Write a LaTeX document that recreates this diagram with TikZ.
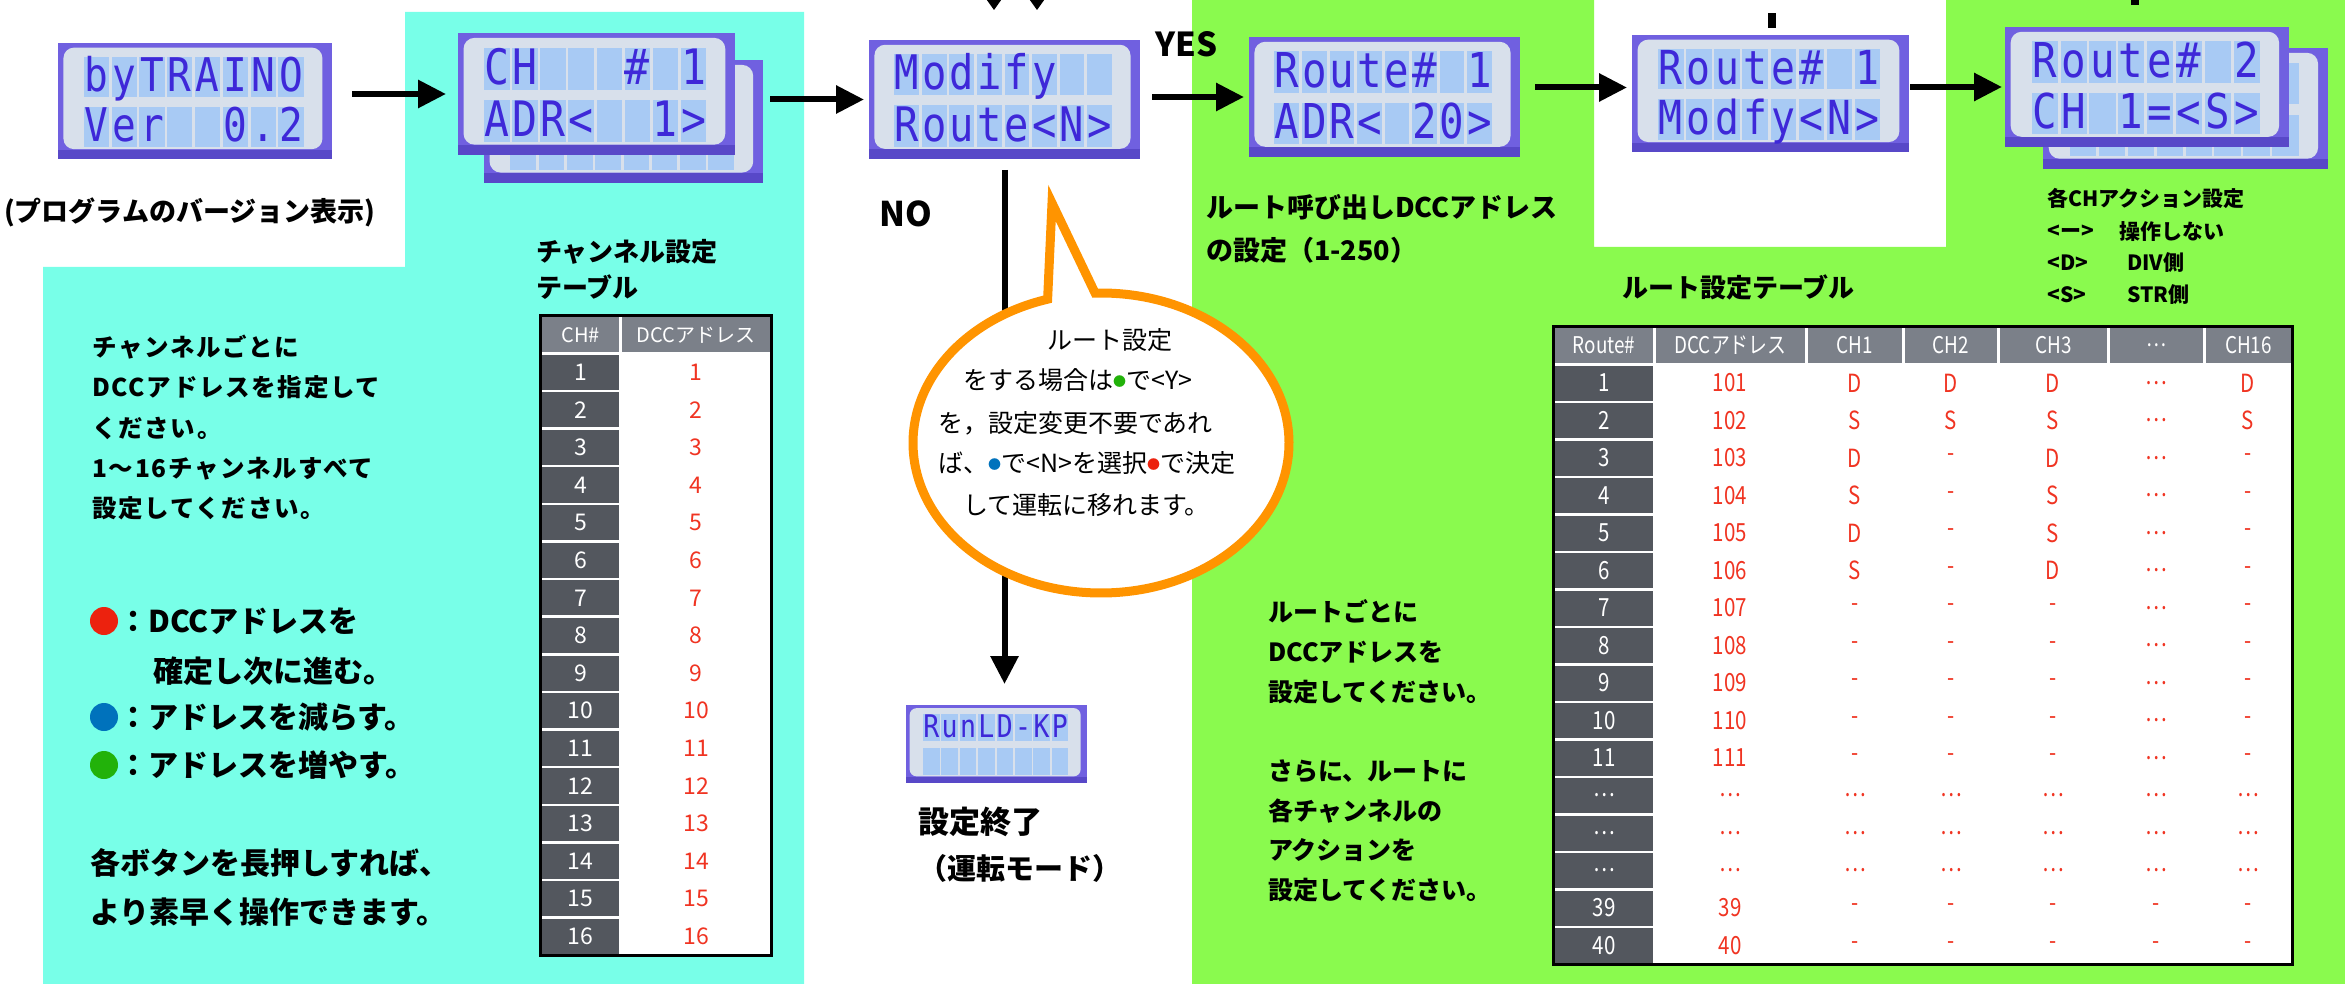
\documentclass[tikz,border=0pt]{standalone}
\usepackage{fontspec}
\setmainfont{Noto Sans CJK JP}
\newfontfamily\jp{Noto Sans CJK JP}
\newfontfamily\jpc{Noto Sans CJK JP}[FakeStretch=0.82]
\newfontfamily\lcdfont{DejaVu Sans Mono}[FakeStretch=0.85]
\usetikzlibrary{arrows.meta,calc}
\definecolor{cyanbg}{RGB}{120,255,232}
\definecolor{greenbg}{RGB}{138,250,78}
\definecolor{orng}{RGB}{255,148,0}
\definecolor{redtx}{RGB}{240,52,34}
\definecolor{hdrgray}{RGB}{123,128,137}
\definecolor{darkcell}{RGB}{83,87,94}
\definecolor{dotred}{RGB}{236,34,14}
\definecolor{dotblue}{RGB}{0,114,188}
\definecolor{dotgreen}{RGB}{34,178,10}
\definecolor{lcdfr}{RGB}{112,96,224}
\definecolor{lcdfrd}{RGB}{88,72,200}
\definecolor{lcdin}{RGB}{216,224,235}
\definecolor{lcdcl}{RGB}{168,202,244}
\definecolor{lcdtx}{RGB}{62,40,216}
\newcommand{\fz}[2]{\fontsize{#1}{#2}\selectfont}
\tikzset{
  arr/.style={line width=6pt,-{Triangle[length=28pt,width=27pt]}},
  lcdbox/.style={rectangle,fill=lcdfr,inner sep=0pt,outer sep=0pt},
  lcdchar/.style={anchor=base,inner sep=0pt,text=lcdtx},
  lbl/.style={anchor=west,inner sep=0pt,align=left,text=black},
  hdr/.style={inner sep=0pt,text=white},
  cellw/.style={inner sep=0pt,text=white,font=\jp\fz{23}{23}},
  cellr/.style={inner sep=0pt,text=redtx,font=\jp\fz{23}{23}},
  rcw/.style={inner sep=0pt,text=white,font=\jpc\fz{25}{25}},
  rcr/.style={inner sep=0pt,text=redtx,font=\jpc\fz{25}{25}},
}
% #1 name, #2 cx, #3 cy, #4 w, #5 h, #6 row1, #7 row2
\newcommand{\lcdpanel}[7]{%
  \pgfmathsetmacro{\lrc}{0.09*#5}%
  \pgfmathsetmacro{\lfs}{0.40*#5}%
  \node[lcdbox, minimum width=#4pt, minimum height=#5pt] (#1) at (#2,#3) {};
  \fill[lcdfrd] ($(#1.south west)+(0,-0.08*#5)$) rectangle (#1.south east);
  \fill[lcdin, rounded corners=\lrc pt] ($(#1.north west)+(0.02*#4,0.04*#5)$) rectangle ($(#1.south east)+(-0.035*#4,-0.085*#5)$);
  \foreach \j in {0,1}{\foreach \i in {0,...,7}{
    \fill[lcdcl] ($(#1.north west)+({(0.094+0.1015*\i)*#4},{(0.12+0.43*\j)*#5})$) rectangle +({0.092*#4},{0.345*#5});}}
  \foreach \ch [count=\i from 0] in {#6}{
    \node[lcdchar, font=\lcdfont\fz{\lfs}{\lfs}] (#1-a\i) at ($(#1.north west)+({(0.14+0.1015*\i)*#4},{0.42*#5})$) {\ch};}
  \foreach \ch [count=\i from 0] in {#7}{
    \node[lcdchar, font=\lcdfont\fz{\lfs}{\lfs}] (#1-b\i) at ($(#1.north west)+({(0.14+0.1015*\i)*#4},{0.85*#5})$) {\ch};}
}
\begin{document}
\begin{tikzpicture}[x=1pt,y=-1pt]
\useasboundingbox (0,0) rectangle (2345,984);
\fill[white] (0,0) rectangle (2345,984);
\fill[cyanbg] (405,12) -- (804,12) -- (804,984) -- (43,984) -- (43,267) -- (405,267) -- cycle;
\fill[greenbg] (1192,0) -- (1594,0) -- (1594,247) -- (1946,247) -- (1946,0) -- (2345,0) -- (2345,984) -- (1192,984) -- cycle;

% cut-off marks at the top edge
\fill[black] (984,-4) -- (1004,-4) -- (994,10) -- cycle;
\fill[black] (1027,-4) -- (1047,-4) -- (1037,10) -- cycle;
\fill[black] (1768,13) rectangle (1776,28);
\fill[black] (2131,0) rectangle (2139,5);

% LCD panels
\lcdpanel{lcd1}{195}{101}{274}{116}{b,y,T,R,A,I,N,O}{V,e,r,{},{},0,.,2}
\lcdpanel{lcd2b}{623.5}{121.5}{279}{123}{{}}{{}}
\lcdpanel{lcd2}{596.5}{94}{277}{122}{C,H,{},{},{},\#,{},1}{A,D,R,<,{},{},1,>}
\lcdpanel{lcd3}{1004.5}{99.5}{271}{119}{M,o,d,i,f,y,{},{}}{R,o,u,t,e,<,N,>}
\lcdpanel{lcd4}{1384.5}{97}{271}{120}{R,o,u,t,e,\#,{},1}{A,D,R,<,{},2,0,>}
\lcdpanel{lcd5}{1770.5}{93.5}{277}{117}{R,o,u,t,e,\#,{},1}{M,o,d,f,y,<,N,>}
\lcdpanel{lcd6b}{2185.5}{108.5}{285}{121}{{}}{{}}
\lcdpanel{lcd6}{2147}{87}{284}{120}{R,o,u,t,e,\#,{},2}{C,H,{},1,=,<,S,>}
\lcdpanel{lcd7}{996.5}{744}{181}{78}{R,u,n,L,D,-,K,P}{{}}

% arrows
\draw[arr, shorten >=12pt] ([xshift=20pt]lcd1.east |- lcd2.west) -- (lcd2.west);
\draw[arr, shorten >=5pt] ([xshift=7pt]lcd2b.east |- lcd3.west) -- (lcd3.west);
\draw[arr, shorten >=5pt] ([xshift=12pt]lcd3.east |- lcd4.west) -- (lcd4.west);
\draw[arr, shorten >=5pt] ([xshift=15pt,yshift=6pt]lcd4.east |- lcd5.west) -- ([yshift=6pt]lcd5.west);
\draw[arr, shorten >=3pt] ([xshift=1pt]lcd5.east |- lcd6.west) -- (lcd6.west);
\draw[arr, shorten <=11pt, shorten >=21pt] (lcd3.south) -- (lcd3.south |- lcd7.north);

% speech bubble
\coordinate (bc) at (1101,443);
\draw[orng, line width=9pt, fill=white, line join=miter] (bc) ++(268.2:188 and 150) arc[start angle=268.2, end angle=613.5, x radius=188, y radius=150] -- (1052,203) -- cycle;
\node[lbl, font=\jp\fz{25}{25}] (bt1) at (1047,340) {ルート設定};
\node[lbl, font=\jp\fz{25}{25}] (bt2) at (963,380) {をする場合は\raisebox{3pt}{\textcolor{dotgreen}{\fz{13}{13}●}}で<Y>};
\node[lbl, font=\jp\fz{25}{25}] (bt3) at (938,423) {を，設定変更不要であれ};
\node[lbl, font=\jp\fz{25}{25}] (bt4) at (938,463) {ば、\raisebox{3pt}{\textcolor{dotblue}{\fz{13}{13}●}}で<N>を選択\raisebox{3pt}{\textcolor{dotred}{\fz{13}{13}●}}で決定};
\node[lbl, font=\jp\fz{25}{25}] (bt5) at (963,505) {して運転に移れます。};

% channel table
\fill[black] (539,314) rectangle (773,957);
\fill[white] (542,317) rectangle (770,954);
\fill[hdrgray] (542,317) rectangle (619,352);
\fill[hdrgray] (622,317) rectangle (770,352);
\node[hdr, font=\jp\fz{20}{20}] (cth1) at (580.5,335) {CH\#};
\node[hdr, font=\jp\fz{20}{20}] (cth2) at (696,335) {DCCアドレス};
\foreach \i in {1,...,16}{
  \pgfmathsetmacro\yt{352+(\i-1)*37.625+2.5}
  \pgfmathsetmacro\yb{352+\i*37.625}
  \pgfmathsetmacro\yc{(\yt+\yb)/2}
  \fill[darkcell] (542,\yt) rectangle (619,\yb);
  \node[cellw] (cta\i) at (580.5,\yc) {\i};
  \node[cellr] (ctb\i) at (696,\yc) {\i};
}

% route table
\fill[black] (1552,325) rectangle (2294,966);
\fill[white] (1555,328) rectangle (2291,963);
\foreach \a/\b/\t [count=\k] in {1555/1653/Route\#, 1656/1805/DCCアドレス, 1808/1902/CH1, 1905/1997/CH2, 2000/2107/CH3, 2110/2203/…, 2206/2291/CH16}{
  \fill[hdrgray] (\a,328) rectangle (\b,363);
  \node[hdr, font=\jpc\fz{23}{23}] (rth\k) at ({(\a+\b)/2},345) {\t};
}
\foreach \row [count=\r] in {{1,101,D,D,D,…,D},{2,102,S,S,S,…,S},{3,103,D,-,D,…,-},{4,104,S,-,S,…,-},{5,105,D,-,S,…,-},{6,106,S,-,D,…,-},{7,107,-,-,-,…,-},{8,108,-,-,-,…,-},{9,109,-,-,-,…,-},{10,110,-,-,-,…,-},{11,111,-,-,-,…,-},{…,…,…,…,…,…,…},{…,…,…,…,…,…,…},{…,…,…,…,…,…,…},{39,39,-,-,-,-,-},{40,40,-,-,-,-,-}}{
  \pgfmathsetmacro\yt{363+(\r-1)*37.5+2.5}
  \pgfmathsetmacro\yb{363+\r*37.5}
  \pgfmathsetmacro\yc{(\yt+\yb)/2}
  \fill[darkcell] (1555,\yt) rectangle (1653,\yb);
  \foreach \v [count=\c] in \row {
    \pgfmathsetmacro\xc{{1604,1730,1855,1951,2053,2156,2248}[\c-1]}
    \ifnum\c=1
      \node[rcw] (rt\r-\c) at (\xc,\yc) {\v};
    \else
      \node[rcr] (rt\r-\c) at (\xc,\yc) {\v};
    \fi
  }
}

% texts
\node[lbl, font=\jp\bfseries\fz{27}{30}] (ver) at (4,212) {(プログラムのバージョン表示)};
\node[lbl, font=\jp\bfseries\fz{26}{36}] (chtitle) at (536,269) {チャンネル設定\\テーブル};
\node[lbl, font=\jp\bfseries\addfontfeature{LetterSpace=7}\fz{24.5}{40.2}] (chnote) at (92,427.5) {チャンネルごとに\\DCCアドレスを指定して\\ください。\\1〜16チャンネルすべて\\設定してください。};
\fill[dotred] (104,621) circle (14);
\fill[dotblue] (104,717) circle (14);
\fill[dotgreen] (104,765) circle (14);
\node[lbl, font=\jp\bfseries\fz{30}{30}] (lg1) at (118,621) {：DCCアドレスを};
\node[lbl, font=\jp\bfseries\fz{30}{30}] (lg2) at (153,671) {確定し次に進む。};
\node[lbl, font=\jp\bfseries\fz{30}{30}] (lg3) at (118,717) {：アドレスを減らす。};
\node[lbl, font=\jp\bfseries\fz{30}{30}] (lg4) at (118,765) {：アドレスを増やす。};
\node[lbl, font=\jp\bfseries\fz{30}{49}] (hold) at (90,887.5) {各ボタンを長押しすれば、\\より素早く操作できます。};
\node[lbl, font=\jp\bfseries\fz{33}{33}] (yes) at (1155,44) {YES};
\node[lbl, font=\jp\bfseries\fz{34}{34}] (no) at (879,214) {NO};
\node[lbl, font=\jp\bfseries\fz{31}{31}] (fin1) at (918,822) {設定終了};
\node[lbl, font=\jp\bfseries\fz{29}{29}] (fin2) at (918,868) {（運転モード）};
\node[lbl, font=\jp\bfseries\fz{27}{43}] (radr) at (1206,228.5) {ルート呼び出しDCCアドレス\\の設定（1-250）};
\node[lbl, font=\jp\bfseries\fz{26}{26}] (rtitle) at (1622,287) {ルート設定テーブル};
\node[lbl, font=\jp\bfseries\fz{21}{21}] (act0) at (2047,198) {各CHアクション設定};
\node[lbl, font=\jp\bfseries\fz{21}{21}] (act1a) at (2047,232) {<ー>};
\node[lbl, font=\jp\bfseries\fz{21}{21}] (act1b) at (2119,232) {操作しない};
\node[lbl, font=\jp\bfseries\fz{21}{21}] (act2a) at (2047,263) {<D>};
\node[lbl, font=\jp\bfseries\fz{21}{21}] (act2b) at (2127,263) {DIV側};
\node[lbl, font=\jp\bfseries\fz{21}{21}] (act3a) at (2047,295) {<S>};
\node[lbl, font=\jp\bfseries\fz{21}{21}] (act3b) at (2127,295) {STR側};
\node[lbl, font=\jp\bfseries\fz{25}{39.7}] (rnote) at (1268,751) {ルートごとに\\DCCアドレスを\\設定してください。\\[39.7pt]さらに、ルートに\\各チャンネルの\\アクションを\\設定してください。};
\end{tikzpicture}
\end{document}
